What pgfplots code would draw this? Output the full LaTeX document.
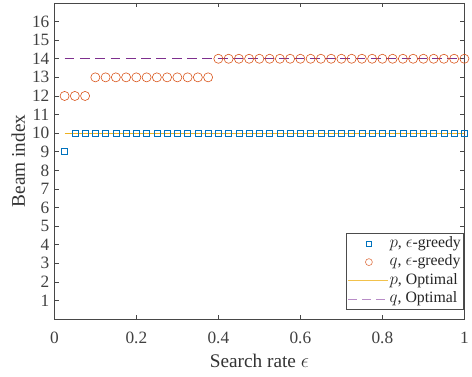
\documentclass[border=0pt]{standalone}
\usepackage{pgfplots}
\pgfplotsset{compat=1.18}
\usepackage{fontspec}
\setmainfont{Liberation Serif}
\definecolor{mblue}{rgb}{0,0.447,0.741}
\definecolor{morange}{rgb}{0.85,0.325,0.098}
\definecolor{myellow}{rgb}{0.929,0.694,0.125}
\definecolor{mpurple}{rgb}{0.494,0.184,0.556}
\definecolor{lyellow}{rgb}{0.95,0.76,0.30}
\definecolor{lpurple}{rgb}{0.72,0.55,0.78}
\begin{document}
\begin{tikzpicture}
\begin{axis}[
  name=ax,
  scale only axis,
  width=415pt, height=320pt,
  xmin=0, xmax=1, ymin=0, ymax=17,
  xtick={0,0.2,0.4,0.6,0.8,1},
  ytick={1,2,...,16},
  xticklabels={0,0.2,0.4,0.6,0.8,1},
  tick align=inside,
  tick pos=both,
  major tick length=4.5pt,
  axis line style={draw=black!72, line width=0.7pt},
  every tick/.style={black!72, line width=0.6pt},
  ticklabel style={font=\fontsize{17.5}{19}\selectfont, text=black!75},
  xticklabel style={anchor=base, yshift=-24.5pt},
  yticklabel style={anchor=east, xshift=-1.5pt},
  label style={font=\fontsize{19.5}{22}\selectfont, text=black!80},
  xlabel={Search rate $\epsilon$},
  ylabel={Beam index},
  xlabel style={at={(axis description cs:0.5,-0.1516)}, anchor=base},
  ylabel style={at={(axis description cs:-0.088,0.5)}, anchor=center},
  /pgf/number format/assume math mode=true,
  legend style={at={(0.9975,0.031)}, anchor=south east, font=\fontsize{16}{18}\selectfont,
    draw=black!70, line width=0.6pt, inner xsep=1pt, inner ysep=1.5pt, row sep=2pt, text=black!85,
    nodes={text height=10.8pt, text depth=3.6pt, inner sep=1.2pt}},
  legend cell align=left,
]
\addplot[only marks, mark=square, mark size=3pt, color=mblue, mark options={line width=0.6pt},
  legend image code/.code={\draw[mblue, line width=0.6pt] plot[mark=square, mark size=2.5pt] coordinates {(21pt,0pt)}; \path (0pt,0pt) (40pt,0pt);}] coordinates {
(0.025,9)(0.05,10)(0.075,10)(0.1,10)(0.125,10)(0.15,10)(0.175,10)(0.2,10)(0.225,10)(0.25,10)
(0.275,10)(0.3,10)(0.325,10)(0.35,10)(0.375,10)(0.4,10)(0.425,10)(0.45,10)(0.475,10)(0.5,10)
(0.525,10)(0.55,10)(0.575,10)(0.6,10)(0.625,10)(0.65,10)(0.675,10)(0.7,10)(0.725,10)(0.75,10)
(0.775,10)(0.8,10)(0.825,10)(0.85,10)(0.875,10)(0.9,10)(0.925,10)(0.95,10)(0.975,10)(1,10)};
\addlegendentry{$p$, $\epsilon$-greedy}
\addplot[only marks, mark=o, mark size=4.6pt, color=morange, mark options={line width=0.6pt},
  legend image code/.code={\draw[morange!80, line width=0.6pt] plot[mark=o, mark size=3.5pt] coordinates {(21pt,0pt)}; \path (0pt,0pt) (40pt,0pt);}] coordinates {
(0.025,12)(0.05,12)(0.075,12)(0.1,13)(0.125,13)(0.15,13)(0.175,13)(0.2,13)(0.225,13)(0.25,13)
(0.275,13)(0.3,13)(0.325,13)(0.35,13)(0.375,13)(0.4,14)(0.425,14)(0.45,14)(0.475,14)(0.5,14)
(0.525,14)(0.55,14)(0.575,14)(0.6,14)(0.625,14)(0.65,14)(0.675,14)(0.7,14)(0.725,14)(0.75,14)
(0.775,14)(0.8,14)(0.825,14)(0.85,14)(0.875,14)(0.9,14)(0.925,14)(0.95,14)(0.975,14)(1,14)};
\addlegendentry{$q$, $\epsilon$-greedy}
\addplot[myellow, line width=1.3pt,
  legend image code/.code={\draw[lyellow, line width=1.1pt] (0pt,0pt) -- (40pt,0pt);}] coordinates {(0.025,10)(1,10)};
\addlegendentry{$p$, Optimal}
\addplot[mpurple, line width=1.1pt, dash pattern=on 10pt off 5.5pt,
  legend image code/.code={\draw[lpurple, line width=1.4pt, dash pattern=on 9pt off 5pt] (0pt,0pt) -- (40pt,0pt);}] coordinates {(0.025,14)(1,14)};
\addlegendentry{$q$, Optimal}
\end{axis}
\path (ax.south west) ++(-55pt,-58pt);
\path (ax.north east) ++(2pt,3pt);
\end{tikzpicture}
\end{document}
